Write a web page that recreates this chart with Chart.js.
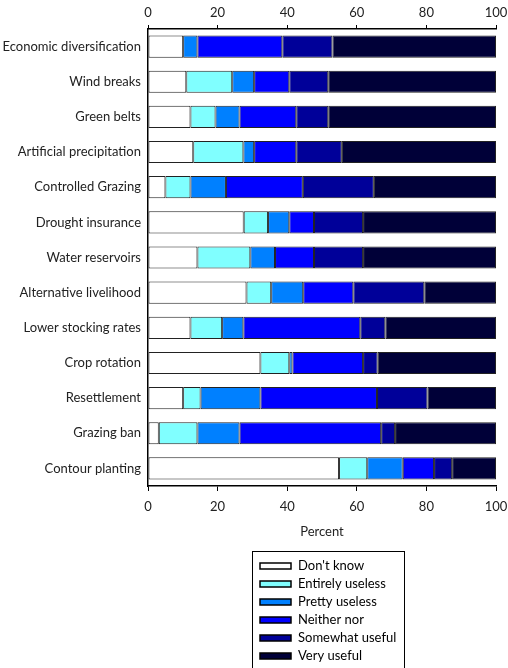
<!DOCTYPE html>
<html>
<head>
<meta charset="utf-8">
<script src="https://cdn.jsdelivr.net/npm/chart.js@4"></script>
<style>
  html, body { margin: 0; padding: 0; background: #fff; }
  #wrap { width: 508px; height: 668px; position: relative; }
</style>
</head>
<body>
<div id="wrap"><canvas id="chart" width="508" height="668"></canvas></div>
<script>
  const categories = ["Economic diversification", "Wind breaks", "Green belts", "Artificial precipitation",
    "Controlled Grazing", "Drought insurance", "Water reservoirs", "Alternative livelihood",
    "Lower stocking rates", "Crop rotation", "Resettlement", "Grazing ban", "Contour planting"];

  const dontKnow       = [10.1, 11.0, 12.2, 13.0, 5.0, 27.5, 14.2, 28.3, 12.2, 32.3, 10.1, 3.1, 54.9];
  const entirelyUseless= [0.0, 13.2, 7.2, 14.4, 7.2, 7.0, 15.2, 7.1, 9.1, 8.3, 5.0, 11.1, 8.1];
  const prettyUseless  = [4.1, 6.3, 6.9, 3.1, 10.2, 6.1, 7.1, 9.2, 6.1, 0.9, 17.2, 12.1, 10.2];
  const neitherNor     = [24.4, 10.1, 16.3, 12.1, 22.1, 7.1, 11.2, 14.4, 33.6, 20.3, 33.5, 40.7, 9.0];
  const somewhatUseful = [14.4, 11.2, 9.2, 13.1, 20.4, 14.1, 14.1, 20.4, 7.2, 4.2, 14.5, 4.0, 5.2];
  const veryUseful     = [47.0, 48.2, 48.2, 44.3, 35.1, 38.2, 38.2, 20.6, 31.8, 34.0, 19.7, 29.0, 12.6];

  const xTicks = [0, 20, 40, 60, 80, 100];

  const fontFam = "Lato, 'Open Sans', sans-serif";

  function series(label, values, color) {
    return {
      label: label,
      data: values,
      backgroundColor: color,
      borderColor: "#222",
      borderWidth: 1,
      borderSkipped: false,
      barPercentage: 0.63,
      categoryPercentage: 1
    };
  }

  // legend in a box below the chart
  const boxLegend = {
    id: "boxLegend",
    afterDraw(chart) {
      const c = chart.ctx;
      c.save();
      c.strokeStyle = "#000";
      c.lineWidth = 1;
      c.strokeRect(252.5, 551.5, 152, 130);
      c.font = "13px " + fontFam;
      c.textBaseline = "middle";
      c.fillStyle = "#000";
      chart.data.datasets.forEach(function(ds, i) {
        const y = 566 + i * 18;
        c.fillStyle = ds.backgroundColor;
        c.fillRect(260, y - 3, 31, 6);
        c.strokeStyle = "#000";
        c.lineWidth = 1.5;
        c.strokeRect(260, y - 3, 31, 6);
        c.fillStyle = "#000";
        c.fillText(ds.label, 298, y);
      });
      c.restore();
    }
  };

  const ctx = document.getElementById("chart").getContext("2d");
  new Chart(ctx, {
    type: "bar",
    data: {
      labels: categories,
      datasets: [
        series("Don't know", dontKnow, "#FFFFFF"),
        series("Entirely useless", entirelyUseless, "#80FFFF"),
        series("Pretty useless", prettyUseless, "#0080FF"),
        series("Neither nor", neitherNor, "#0000FF"),
        series("Somewhat useful", somewhatUseful, "#000099"),
        series("Very useful", veryUseful, "#000038")
      ]
    },
    options: {
      responsive: false,
      animation: false,
      indexAxis: "y",
      layout: { padding: { left: 0, right: 12, top: 0, bottom: 128 } },
      scales: {
        x: {
          position: "bottom",
          stacked: true,
          min: 0,
          max: 100,
          afterBuildTicks: function(scale) {
            scale.ticks = xTicks.map(function(v) { return { value: v }; });
          },
          afterFit: function(scale) {
            scale.height = 54;
            scale.paddingLeft = 0;
            scale.paddingRight = 0;
          },
          grid: { drawOnChartArea: false, tickLength: 5, color: "#000" },
          border: { color: "#000", width: 1.5 },
          ticks: { padding: 8, color: "#222", font: { family: fontFam, size: 13 } },
          title: {
            display: true,
            text: "Percent",
            color: "#222",
            padding: 0,
            font: { family: fontFam, size: 13 }
          }
        },
        x2: {
          type: "linear",
          display: true,
          position: "top",
          min: 0,
          max: 100,
          afterBuildTicks: function(scale) {
            scale.ticks = xTicks.map(function(v) { return { value: v }; });
          },
          afterFit: function(scale) {
            scale.height = 29;
            scale.paddingLeft = 0;
            scale.paddingRight = 0;
          },
          grid: { drawOnChartArea: false, tickLength: 4, color: "#000" },
          border: { color: "#000", width: 1.5 },
          ticks: { padding: 4, color: "#222", font: { family: fontFam, size: 13 } }
        },
        y: {
          stacked: true,
          afterFit: function(scale) { scale.width = 148; },
          grid: { display: false, drawTicks: false },
          border: { color: "#000", width: 1.5 },
          ticks: { padding: 7, color: "#222", font: { family: fontFam, size: 13 } }
        }
      },
      plugins: {
        legend: { display: false },
        tooltip: { enabled: false }
      }
    },
    plugins: [boxLegend]
  });
</script>
</body>
</html>
